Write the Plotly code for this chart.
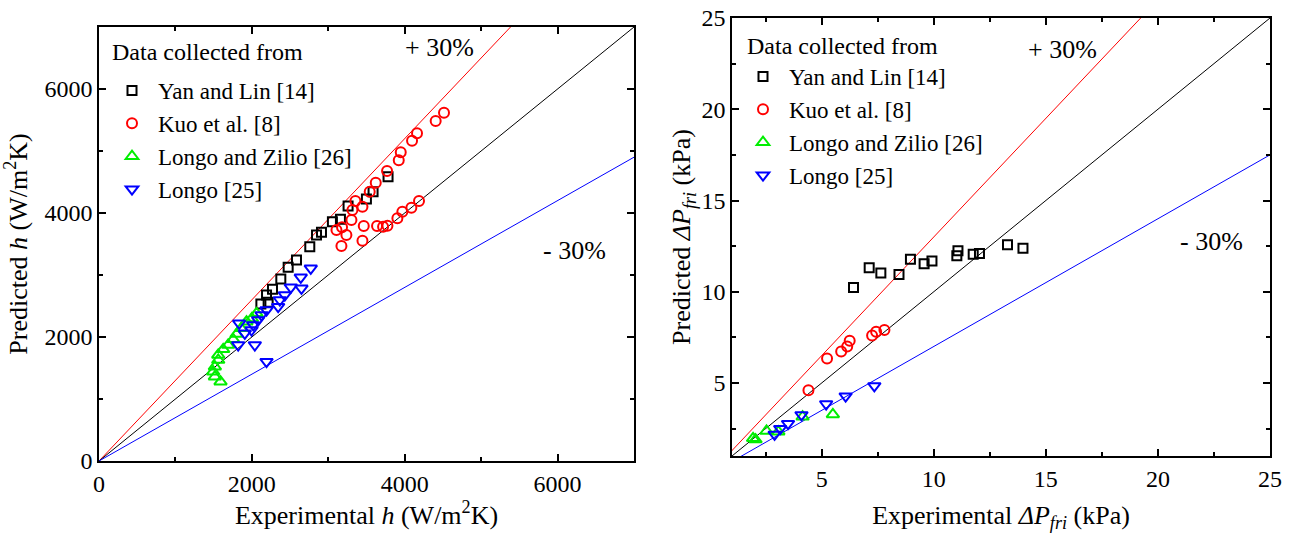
import plotly.graph_objects as go

# ---------------- Left panel: heat transfer coefficient h (W/m2K) ----------------
yan_h_exp = [2118, 2213, 2192, 2270, 2379, 2475, 2584, 2758, 2846, 2911, 3054, 3159, 3259, 3499, 3586, 3782]
yan_h_pred = [2532, 2560, 2677, 2769, 2935, 3124, 3242, 3456, 3645, 3689, 3860, 3898, 4113, 4226, 4344, 4585]

kuo_h_exp = [3107, 3180, 3237, 3172, 3303, 3316, 3355, 3447, 3542, 3621, 3769, 3922, 3948, 4096, 4161, 4405, 4514,
             3447, 3464, 3638, 3717, 3774, 3904, 3969, 4087, 4187]
kuo_h_pred = [3726, 3769, 3645, 3468, 3887, 4048, 4194, 4102, 4344, 4489, 4677, 4850, 4979, 5166, 5285, 5484, 5618,
              3553, 3790, 3790, 3779, 3795, 3914, 4021, 4086, 4194]

lz_h_exp = [1590, 1516, 1494, 1516, 1560, 1560, 1625, 1690, 1756, 1800, 1860, 1930, 2000, 2061]
lz_h_pred = [1280, 1360, 1440, 1521, 1629, 1710, 1801, 1871, 1962, 2048, 2140, 2247, 2300, 2382]

lo_h_exp = [1821, 1834, 1908, 1996, 2017, 2039, 2082, 2126, 2192, 2192, 2344, 2366, 2431, 2510, 2640, 2649, 2771]
lo_h_pred = [1871, 2220, 2059, 2113, 2194, 1871, 2274, 2355, 2435, 1602, 2489, 2597, 2677, 2801, 2963, 2785, 3108]

# ---------------- Right panel: frictional pressure drop (kPa) ----------------
yan_p_exp = [6.42, 7.12, 7.64, 8.45, 8.96, 9.57, 9.92, 11.03, 11.08, 11.76, 12.04, 13.29, 13.98]
yan_p_pred = [10.23, 11.31, 11.03, 10.94, 11.78, 11.54, 11.69, 11.97, 12.25, 12.06, 12.10, 12.57, 12.38]

kuo_p_exp = [4.41, 5.24, 5.87, 6.14, 6.25, 7.25, 7.43, 7.80]
kuo_p_pred = [4.60, 6.34, 6.72, 7.00, 7.32, 7.60, 7.81, 7.90]

lz_p_exp = [1.94, 2.05, 2.54, 3.07, 4.15, 5.50]
lz_p_pred = [1.97, 1.90, 2.37, 2.33, 3.15, 3.28]

lo_p_exp = [2.90, 3.15, 3.50, 4.10, 5.20, 6.07, 7.35]
lo_p_pred = [2.18, 2.50, 2.77, 3.25, 3.85, 4.28, 4.84]

names = ["Yan and Lin [14]", "Kuo et al. [8]", "Longo and Zilio [26]", "Longo [25]"]
colors = ["#000000", "#ff0000", "#00ee00", "#0000ff"]
symbols = ["square-open", "circle-open", "triangle-up-open", "triangle-down-open"]
sizes = [9, 10, 11, 11]

ratio_lines = [1.3, 1.0, 0.7]
ratio_colors = ["#ff0000", "#000000", "#0000ff"]

FONT = "Liberation Serif"

fig = go.Figure()

# reference lines
for r, c in zip(ratio_lines, ratio_colors):
    xs = [0, 7000]
    fig.add_trace(go.Scatter(x=xs, y=[v * r for v in xs], mode="lines", line=dict(color=c, width=1),
                             showlegend=False, hoverinfo="skip", xaxis="x", yaxis="y"))
    xs2 = [0, 26]
    fig.add_trace(go.Scatter(x=xs2, y=[v * r for v in xs2], mode="lines", line=dict(color=c, width=1),
                             showlegend=False, hoverinfo="skip", xaxis="x2", yaxis="y2"))

left_sets = [(yan_h_exp, yan_h_pred), (kuo_h_exp, kuo_h_pred), (lz_h_exp, lz_h_pred), (lo_h_exp, lo_h_pred)]
right_sets = [(yan_p_exp, yan_p_pred), (kuo_p_exp, kuo_p_pred), (lz_p_exp, lz_p_pred), (lo_p_exp, lo_p_pred)]

for (xe, yp), n, c, s, sz in zip(left_sets, names, colors, symbols, sizes):
    fig.add_trace(go.Scatter(x=xe, y=yp, mode="markers", name=n,
                             marker=dict(symbol=s, size=sz, color=c, line=dict(color=c, width=2)),
                             xaxis="x", yaxis="y", legend="legend"))
for (xe, yp), n, c, s, sz in zip(right_sets, names, colors, symbols, sizes):
    fig.add_trace(go.Scatter(x=xe, y=yp, mode="markers", name=n,
                             marker=dict(symbol=s, size=sz, color=c, line=dict(color=c, width=2)),
                             xaxis="x2", yaxis="y2", legend="legend2"))

W, H = 1290, 536
def px_x(p):
    return p / W
def px_y(p):
    return 1 - p / H

axis_common = dict(showline=True, linecolor="black", linewidth=1.5, mirror="ticks", ticks="inside",
                   ticklen=7, tickwidth=1.5, tickcolor="black", showgrid=False, zeroline=False,
                   automargin=False, ticklabeloverflow="allow",
                   tickfont=dict(family=FONT, size=24, color="black"),
                   title_font=dict(family=FONT, size=26, color="black"))

leg_font = dict(family=FONT, size=23, color="black")
head_font = dict(family=FONT, size=24, color="black")

fig.update_layout(
    width=W, height=H,
    margin=dict(l=0, r=0, t=0, b=0),
    paper_bgcolor="white", plot_bgcolor="white",
    font=dict(family=FONT, color="black"),
    xaxis=dict(domain=[px_x(99), px_x(634)], range=[0, 7000], dtick=2000, anchor="y",
               minor=dict(dtick=1000, ticks="inside", ticklen=4, tickcolor="black"),
               title=dict(text="Experimental <i>h</i> (W/m<sup>2</sup>K)", standoff=10), **axis_common),
    yaxis=dict(domain=[px_y(461), px_y(27)], range=[0, 7000], dtick=2000, anchor="x",
               minor=dict(dtick=1000, ticks="inside", ticklen=4, tickcolor="black"),
               title=dict(text="Predicted <i>h</i> (W/m<sup>2</sup>K)", standoff=22), **axis_common),
    xaxis2=dict(domain=[px_x(732), px_x(1270)], range=[1, 25], tickvals=[5, 10, 15, 20, 25], anchor="y2",
                minor=dict(tickvals=[2.5, 7.5, 12.5, 17.5, 22.5], ticks="inside", ticklen=4, tickcolor="black"),
                title=dict(text="Experimental <i>ΔP</i><sub><i>fri</i></sub> (kPa)", standoff=15), **axis_common),
    yaxis2=dict(domain=[px_y(456), px_y(18)], range=[1, 25], tickvals=[5, 10, 15, 20, 25], anchor="x2",
                minor=dict(tickvals=[2.5, 7.5, 12.5, 17.5, 22.5], ticks="inside", ticklen=4, tickcolor="black"),
                title=dict(text="Predicted <i>ΔP</i><sub><i>fri</i></sub> (kPa)", standoff=3), **axis_common),
    legend=dict(x=px_x(106), y=px_y(69), xanchor="left", yanchor="top", bgcolor="rgba(0,0,0,0)",
                font=leg_font, itemsizing="trace", itemwidth=42, tracegroupgap=0),
    legend2=dict(x=px_x(737), y=px_y(55), xanchor="left", yanchor="top", bgcolor="rgba(0,0,0,0)",
                 font=leg_font, itemsizing="trace", itemwidth=42, tracegroupgap=0),
)

# legend headings
fig.add_annotation(x=px_x(110), y=px_y(52), xref="paper", yref="paper", xanchor="left", yanchor="middle",
                   text="Data collected from", showarrow=False, font=head_font)
fig.add_annotation(x=px_x(745), y=px_y(46), xref="paper", yref="paper", xanchor="left", yanchor="middle",
                   text="Data collected from", showarrow=False, font=head_font)

ann_font = dict(family=FONT, size=26, color="black")
fig.add_annotation(x=4458, y=6677, xref="x", yref="y", text="+ 30%", showarrow=False, font=ann_font)
fig.add_annotation(x=6222, y=3403, xref="x", yref="y", text="- 30%", showarrow=False, font=ann_font)
fig.add_annotation(x=15.74, y=23.25, xref="x2", yref="y2", text="+ 30%", showarrow=False, font=ann_font)
fig.add_annotation(x=22.4, y=12.73, xref="x2", yref="y2", text="- 30%", showarrow=False, font=ann_font)

fig.write_html("out.html", config={"displayModeBar": False},
               post_script="document.body.style.margin='0px';document.body.style.overflow='hidden';")
